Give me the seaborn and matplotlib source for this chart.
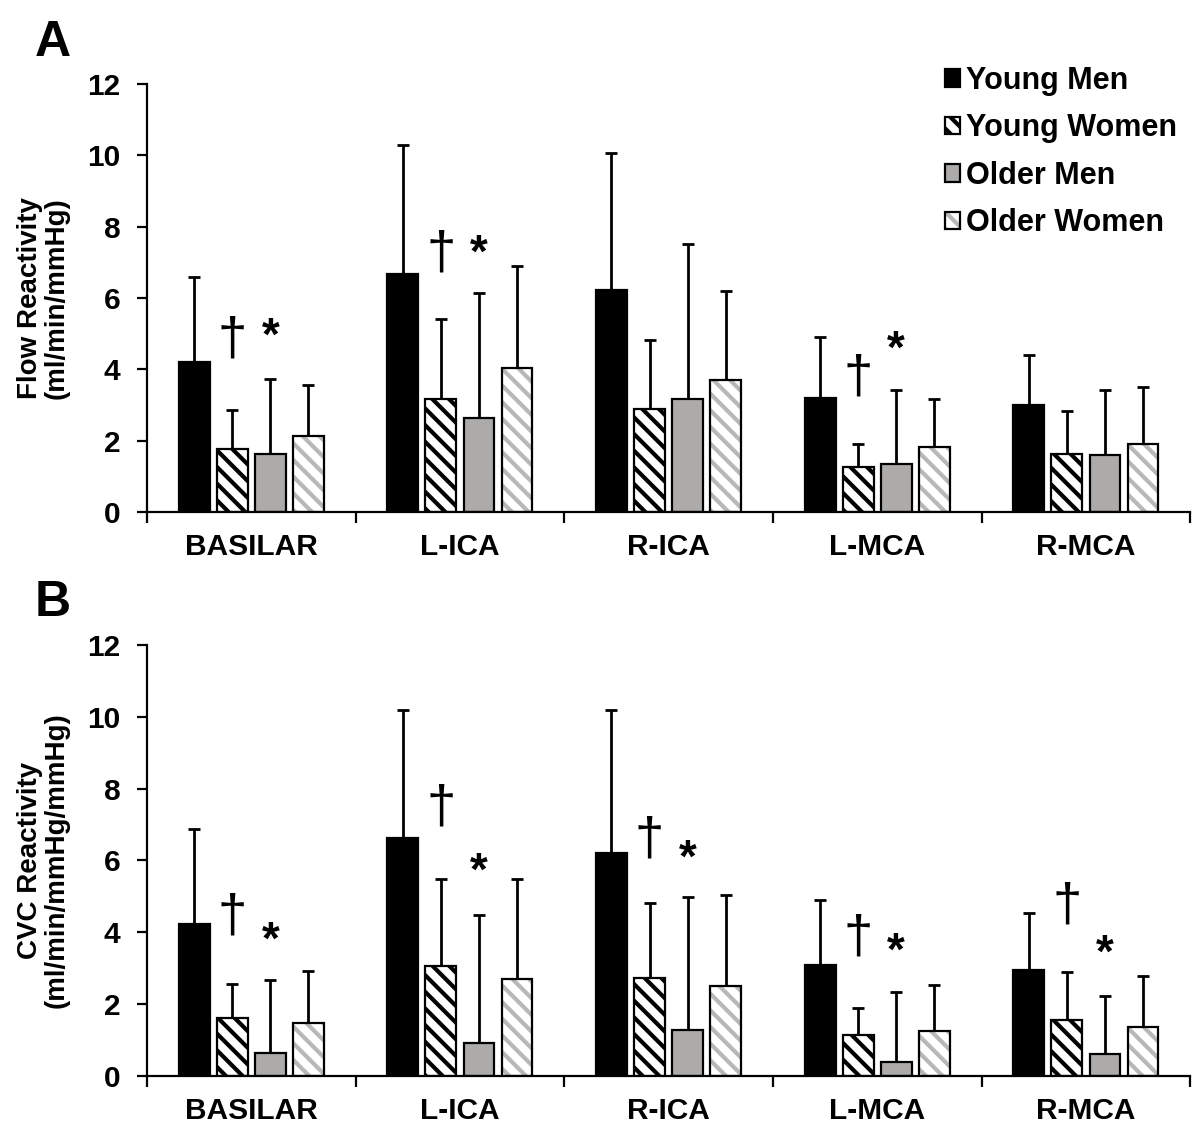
import numpy as np
import pandas as pd
import matplotlib
matplotlib.use("Agg")
import matplotlib.pyplot as plt
import seaborn as sns
from matplotlib.patches import Patch, Rectangle
from matplotlib.ticker import FixedLocator

regions = ["BASILAR", "L-ICA", "R-ICA", "L-MCA", "R-MCA"]
groups = ["Young Men", "Young Women", "Older Men", "Older Women"]

# Panel A - flow reactivity, mean and SD per group
flow_ym = [4.20, 6.68, 6.23, 3.20, 3.00]
flow_yw = [1.78, 3.17, 2.89, 1.25, 1.62]
flow_om = [1.62, 2.64, 3.17, 1.35, 1.59]
flow_ow = [2.12, 4.04, 3.69, 1.83, 1.92]
flow_ym_sd = [2.40, 3.62, 3.84, 1.72, 1.39]
flow_yw_sd = [1.08, 2.24, 1.93, 0.66, 1.22]
flow_om_sd = [2.11, 3.50, 4.33, 2.06, 1.82]
flow_ow_sd = [1.45, 2.86, 2.50, 1.33, 1.58]

# Panel B - CVC reactivity
cvc_ym = [4.23, 6.63, 6.21, 3.10, 2.95]
cvc_yw = [1.62, 3.06, 2.72, 1.14, 1.55]
cvc_om = [0.64, 0.92, 1.28, 0.39, 0.61]
cvc_ow = [1.48, 2.70, 2.51, 1.25, 1.37]
cvc_ym_sd = [2.65, 3.57, 3.97, 1.79, 1.58]
cvc_yw_sd = [0.94, 2.42, 2.09, 0.75, 1.34]
cvc_om_sd = [2.03, 3.56, 3.70, 1.96, 1.63]
cvc_ow_sd = [1.44, 2.78, 2.52, 1.28, 1.40]

# significance markers: (region, y level)
dagger_a = [("BASILAR", 4.85), ("L-ICA", 7.26), ("L-MCA", 3.78)]
star_a = [("BASILAR", 5.15), ("L-ICA", 7.49), ("L-MCA", 4.80)]
dagger_b = [("BASILAR", 4.46), ("L-ICA", 7.49), ("R-ICA", 6.60), ("L-MCA", 3.87), ("R-MCA", 4.76)]
star_b = [("BASILAR", 4.00), ("L-ICA", 5.93), ("R-ICA", 6.30), ("L-MCA", 3.70), ("R-MCA", 3.65)]

GREY = "#ADAAAA"
HATCH_GREY = "#B8B8B8"
faces = ["black", "white", GREY, "white"]

sns.set_theme(style="white")
plt.rcParams["font.family"] = ["Liberation Sans", "DejaVu Sans"]
plt.rcParams["hatch.linewidth"] = 3.0
plt.rcParams["axes.linewidth"] = 1.6
for key in ["text.color", "axes.labelcolor", "xtick.color", "ytick.color", "axes.edgecolor"]:
    plt.rcParams[key] = "black"

TICK_FS = 21.5


def draw_panel(ax, means, sds, ylabel, daggers, stars):
    df = pd.DataFrame({
        "region": np.tile(regions, len(groups)),
        "group": np.repeat(groups, len(regions)),
        "value": np.concatenate(means),
    })
    sns.barplot(data=df, x="region", y="value", hue="group", order=regions,
                hue_order=groups, palette=faces, saturation=1, width=0.73, gap=0.19,
                errorbar=None, edgecolor="black", linewidth=1.6, legend=False, ax=ax)
    bar_conts = list(ax.containers)

    for i, cont in enumerate(bar_conts):
        for bar in cont.patches:
            bar.set_zorder(2)
            if i == 1:
                bar.set_hatch("\\\\")
            if i == 3:
                # grey hatch, black outline drawn on top
                bar.set_hatch("\\\\")
                bar.set_edgecolor(HATCH_GREY)
                bar.set_linewidth(0)
                ax.add_patch(Rectangle(bar.get_xy(), bar.get_width(), bar.get_height(),
                                       fill=False, edgecolor="black", linewidth=1.6, zorder=3))
        xs = [b.get_x() + b.get_width() / 2 for b in cont.patches]
        hs = [b.get_height() for b in cont.patches]
        ax.errorbar(xs, hs, yerr=[np.zeros(len(xs)), sds[i]], fmt="none", ecolor="black",
                    elinewidth=2, capsize=4, capthick=2, zorder=1)

    def bar_x(group_idx, region):
        b = bar_conts[group_idx].patches[regions.index(region)]
        return b.get_x() + b.get_width() / 2

    for region, y in daggers:
        ax.annotate("\u2020", (bar_x(1, region), y), xytext=(0, -1), textcoords="offset points",
                    ha="center", va="center", fontsize=38, fontweight="normal")
    for region, y in stars:
        ax.annotate("*", (bar_x(2, region), y), xytext=(0, -7), textcoords="offset points",
                    ha="center", va="center", fontsize=33, fontweight="bold")

    ax.set_xlim(-0.5, len(regions) - 0.5)
    ax.set_ylim(0, 12)
    ax.set_yticks(range(0, 13, 2))
    ax.set_xlabel("")
    ax.set_ylabel(ylabel, fontsize=20, fontweight="bold", linespacing=1.05)
    ax.yaxis.set_label_coords(-0.074, 0.5)
    sns.despine(ax=ax)
    ax.tick_params(axis="y", direction="out", length=7, width=1.6, left=True,
                   labelsize=TICK_FS, pad=12)
    ax.tick_params(axis="x", which="major", length=0, labelsize=TICK_FS, pad=15)
    ax.xaxis.set_minor_locator(FixedLocator(np.arange(-0.5, len(regions), 1.0)))
    ax.tick_params(axis="x", which="minor", direction="out", length=8, width=1.6, bottom=True)
    for lab in ax.get_xticklabels() + ax.get_yticklabels():
        lab.set_fontweight("bold")


fig = plt.figure(figsize=(11.95, 11.27), dpi=100)
ax_a = fig.add_axes([0.123, 0.5457, 0.873, 0.3798])
ax_b = fig.add_axes([0.123, 0.0453, 0.873, 0.3824])

draw_panel(ax_a, [flow_ym, flow_yw, flow_om, flow_ow],
           [flow_ym_sd, flow_yw_sd, flow_om_sd, flow_ow_sd],
           "Flow Reactivity\n(ml/min/mmHg)", dagger_a, star_a)
draw_panel(ax_b, [cvc_ym, cvc_yw, cvc_om, cvc_ow],
           [cvc_ym_sd, cvc_yw_sd, cvc_om_sd, cvc_ow_sd],
           "CVC Reactivity\n(ml/min/mmHg/mmHg)", dagger_b, star_b)

fig.text(0.029, 0.962, "A", fontsize=36, fontweight="bold", va="center")
fig.text(0.029, 0.465, "B", fontsize=36, fontweight="bold", va="center")

# legend with square swatches
h_ym = Patch(facecolor="black", edgecolor="black", linewidth=1.6)
h_yw = Patch(facecolor="white", edgecolor="black", hatch="\\\\", linewidth=1.6)
h_om = Patch(facecolor=GREY, edgecolor="black", linewidth=1.6)
h_ow = (Patch(facecolor="white", edgecolor=HATCH_GREY, hatch="\\\\", linewidth=0),
        Patch(facecolor="none", edgecolor="black", linewidth=1.6))
leg = ax_a.legend([h_ym, h_yw, h_om, h_ow], groups, loc="upper left",
                  bbox_to_anchor=(0.778, 0.955), bbox_transform=fig.transFigure,
                  frameon=False, handlelength=0.5, handleheight=0.5,
                  handletextpad=0.2, labelspacing=0.57, borderpad=0,
                  prop={"size": 22, "weight": "bold"})

fig.savefig("out.png", dpi=100, facecolor="white")
